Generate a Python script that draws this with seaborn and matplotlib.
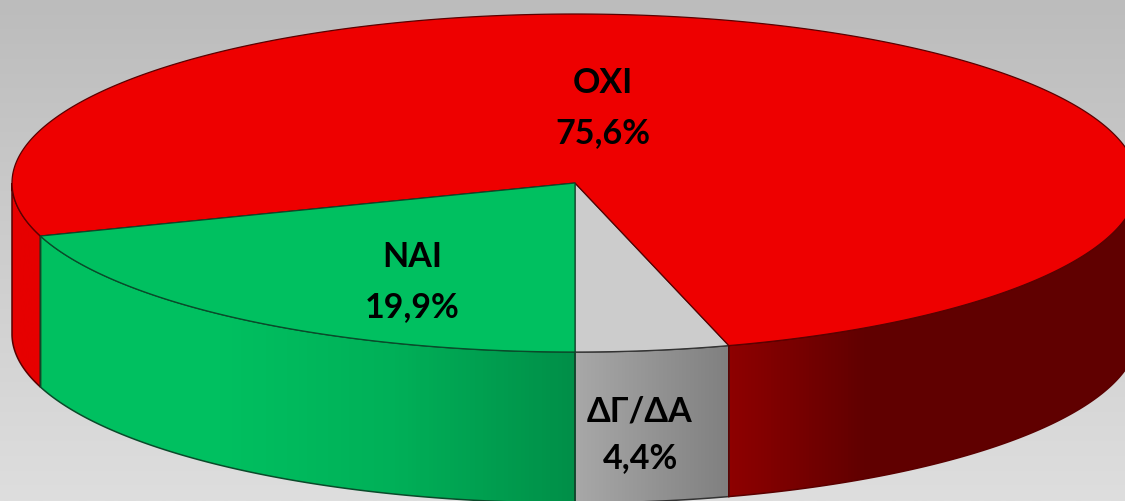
"""3D style pie chart of the answers, drawn on a pixel-sized axes."""

import matplotlib.pyplot as plt
import numpy as np
import seaborn as sns
from matplotlib.colors import ListedColormap
from matplotlib.patches import Polygon

sns.set_theme(style="white")
plt.rcParams["font.family"] = ["Lato", "Noto Sans", "DejaVu Sans"]

# order runs from the front of the pie, going right and round the back
labels = ["ΔΓ/ΔΑ", "ΟΧΙ", "ΝΑΙ"]
shares = [4.4, 75.6, 19.9]
value_labels = ["4,4%", "75,6%", "19,9%"]

top_colors = ["#cccccc", "#ee0000", "#00c060"]
edge_colors = ["#333333", "#5a0000", "#0a4a2a"]

CX, CY, RX, RY, DEPTH = 575, 184, 563, 169, 151
W, H = 1125, 502


def rim(start, end, n=200):
    theta = np.radians(np.linspace(start, end, n))
    return CX + RX * np.sin(theta), CY + RY * np.cos(theta)


def draw_side(ax, start, end, stops):
    """Front wall between two angles, filled with a left to right gradient."""
    x, y = rim(start, end)
    pts = np.r_[np.c_[x, y], np.c_[x, y + DEPTH][::-1]]
    left, right = x.min(), x.max()
    cmap = ListedColormap(sns.blend_palette(stops, n_colors=128))
    im = ax.imshow(
        np.linspace(0, 1, 128).reshape(1, -1),
        cmap=cmap,
        extent=(left, right, H + 60, 0),
        aspect="auto",
        zorder=2,
    )
    clip = Polygon(pts, closed=True, transform=ax.transData)
    im.set_clip_path(clip)
    return pts


fig, ax = plt.subplots(figsize=(W / 100, H / 100), dpi=100)
fig.subplots_adjust(0, 0, 1, 1)

# background
ax.imshow(
    np.linspace(0, 1, 256).reshape(-1, 1),
    cmap=ListedColormap(sns.blend_palette(["#bcbcbc", "#dedede"], n_colors=256)),
    extent=(0, W, H, 0),
    aspect="auto",
    zorder=0,
)

edges = np.cumsum([0] + shares) / sum(shares) * 360

# walls, only the part facing the viewer
walls = [
    (edges[0], edges[1], ["#a8a8a8", "#808080"], edge_colors[0]),
    (edges[1], 90, ["#8e0000", "#600000", "#600000", "#600000"], edge_colors[1]),
    (270, edges[2], ["#e60000", "#e60000"], edge_colors[1]),
    (edges[2], edges[3], ["#00c060", "#00c060", "#00b058", "#008f48"], edge_colors[2]),
]
for start, end, stops, edge in walls:
    pts = draw_side(ax, start, end, stops)
    ax.add_patch(Polygon(pts, closed=True, fill=False, ec=edge, lw=1.1, zorder=3))

# top of the pie
for i in range(3):
    x, y = rim(edges[i], edges[i + 1], 400)
    ax.add_patch(
        Polygon(
            np.r_[[[CX, CY]], np.c_[x, y]],
            closed=True,
            fc=top_colors[i],
            ec=edge_colors[i],
            lw=0.9,
            zorder=4,
        )
    )

# labels
label_pos = [(640, 412, 458), (603, 83, 133), (412, 257, 307)]
for name, value, (x, y1, y2) in zip(labels, value_labels, label_pos):
    ax.text(x, y1, name, ha="center", va="center", fontsize=24.5, fontweight="bold",
            color="black", zorder=5)
    ax.text(x, y2, value, ha="center", va="center", fontsize=24.5, fontweight="bold",
            color="black", zorder=5)

ax.set_xlim(0, W)
ax.set_ylim(H, 0)
ax.axis("off")

fig.savefig("out.png", dpi=100)
plt.close(fig)
